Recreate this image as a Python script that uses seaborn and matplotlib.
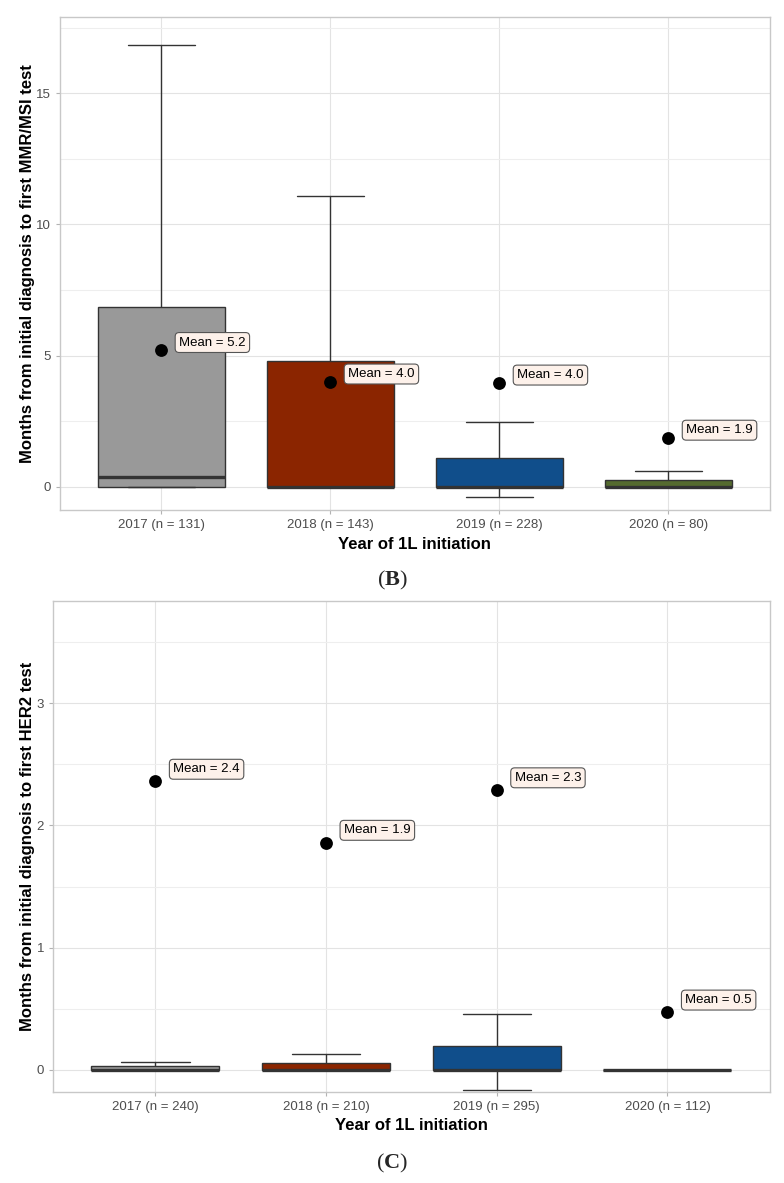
import matplotlib
matplotlib.use('Agg')
import matplotlib.pyplot as plt
from matplotlib.ticker import MultipleLocator
import numpy as np
import pandas as pd
import seaborn as sns

# ---- data ----
years = ['2017', '2018', '2019', '2020']
box_colors = ['#999999', '#8B2500', '#104E8B', '#556B2F']

# (B) months to first MMR/MSI test
mmr_n = [131, 143, 228, 80]
mmr_whislo = [0.0, 0.0, -0.37, 0.0]
mmr_q1 = [0.0, 0.0, 0.0, 0.0]
mmr_med = [0.37, 0.0, 0.0, 0.0]
mmr_q3 = [6.84, 4.78, 1.10, 0.28]
mmr_whishi = [16.84, 11.07, 2.48, 0.60]
mmr_mean = [5.2, 4.0, 3.96, 1.86]

# (C) months to first HER2 test
her2_n = [240, 210, 295, 112]
her2_whislo = [0.0, 0.0, -0.17, 0.0]
her2_q1 = [0.0, 0.0, 0.0, 0.0]
her2_med = [0.0, 0.0, 0.0, 0.0]
her2_q3 = [0.027, 0.052, 0.195, 0.0]
her2_whishi = [0.063, 0.13, 0.46, 0.0]
her2_mean = [2.36, 1.86, 2.29, 0.47]

sns.set_theme(style='whitegrid')
plt.rcParams['font.family'] = ['Liberation Sans', 'DejaVu Sans']
plt.rcParams['mathtext.fontset'] = 'custom'
plt.rcParams['mathtext.rm'] = 'Liberation Serif'
plt.rcParams['mathtext.bf'] = 'Liberation Serif:bold'

fig = plt.figure(figsize=(7.84, 11.83), dpi=100)
ax_b = fig.add_axes([0.0765, 0.5689, 0.9055, 0.4167])
ax_c = fig.add_axes([0.0676, 0.0772, 0.9144, 0.4150])


def draw_panel(ax, n, whislo, q1, med, q3, whishi, means, ylim, minor, major,
               ylabel, nudge_y):
    labels = [f'{y} (n = {k})' for y, k in zip(years, n)]
    stats = []
    for i in range(len(years)):
        stats.append({'whislo': whislo[i], 'q1': q1[i], 'med': med[i],
                      'q3': q3[i], 'whishi': whishi[i], 'fliers': []})
    pos = np.arange(1, len(years) + 1)
    bp = ax.bxp(stats, positions=pos, widths=0.75, capwidths=0.4,
                patch_artist=True, showfliers=False,
                boxprops=dict(edgecolor='#333333', linewidth=1.0),
                whiskerprops=dict(color='#333333', linewidth=1.0),
                capprops=dict(color='#333333', linewidth=1.0),
                medianprops=dict(color='#333333', linewidth=2.4,
                                 solid_capstyle='butt'))
    for patch, c in zip(bp['boxes'], box_colors):
        patch.set_facecolor(c)
    for w in bp['whiskers']:
        w.set_zorder(1.5)

    df = pd.DataFrame({'x': pos, 'mean': means})
    sns.scatterplot(data=df, x='x', y='mean', s=85, color='black',
                    edgecolor='black', linewidth=0, zorder=4, ax=ax)
    for xi, m in zip(pos, means):
        ax.text(xi + 0.105, m + nudge_y, f'Mean = {m:.1f}', ha='left',
                va='center', fontsize=9.5, color='black', zorder=5,
                bbox=dict(boxstyle='round,pad=0.3,rounding_size=0.3',
                          facecolor='#FDF1EA', edgecolor='#555555',
                          linewidth=0.8))

    ax.set_xlim(0.4, 4.6)
    ax.set_ylim(*ylim)
    ax.set_xticks(pos)
    ax.set_xticklabels(labels)
    ax.yaxis.set_major_locator(MultipleLocator(major))
    ax.yaxis.set_minor_locator(MultipleLocator(minor))
    ax.grid(True, which='major', color='#E3E3E3', linewidth=0.8)
    ax.grid(True, which='minor', axis='y', color='#EEEEEE', linewidth=0.8)
    ax.set_axisbelow(True)
    ax.set_facecolor('white')
    for sp in ax.spines.values():
        sp.set_color('#C8C8C8')
        sp.set_linewidth(1.0)
    ax.tick_params(axis='both', which='major', length=3, width=0.8,
                   color='#B3B3B3', labelsize=9.5, labelcolor='#4D4D4D',
                   pad=3.5, bottom=True, left=True)
    ax.tick_params(axis='y', which='minor', length=0)
    ax.set_xlabel('Year of 1L initiation', fontsize=12, fontweight='bold',
                  color='black', labelpad=4)
    ax.set_ylabel(ylabel, fontsize=12, fontweight='bold', color='black',
                  labelpad=1)


draw_panel(ax_b, mmr_n, mmr_whislo, mmr_q1, mmr_med, mmr_q3, mmr_whishi,
           mmr_mean, (-0.88, 17.9), 2.5, 5,
           'Months from initial diagnosis to first MMR/MSI test', 0.3)
draw_panel(ax_c, her2_n, her2_whislo, her2_q1, her2_med, her2_q3, her2_whishi,
           her2_mean, (-0.18, 3.84), 0.5, 1,
           'Months from initial diagnosis to first HER2 test', 0.1)

fig.text(0.5, 1 - 580 / 1183, r'$\mathrm{(}\mathbf{B}\mathrm{)}$',
         ha='center', va='center', fontsize=16)
fig.text(0.5, 1 - 1163 / 1183, r'$\mathrm{(}\mathbf{C}\mathrm{)}$',
         ha='center', va='center', fontsize=16)

fig.savefig('out.png', dpi=100, facecolor='white')
